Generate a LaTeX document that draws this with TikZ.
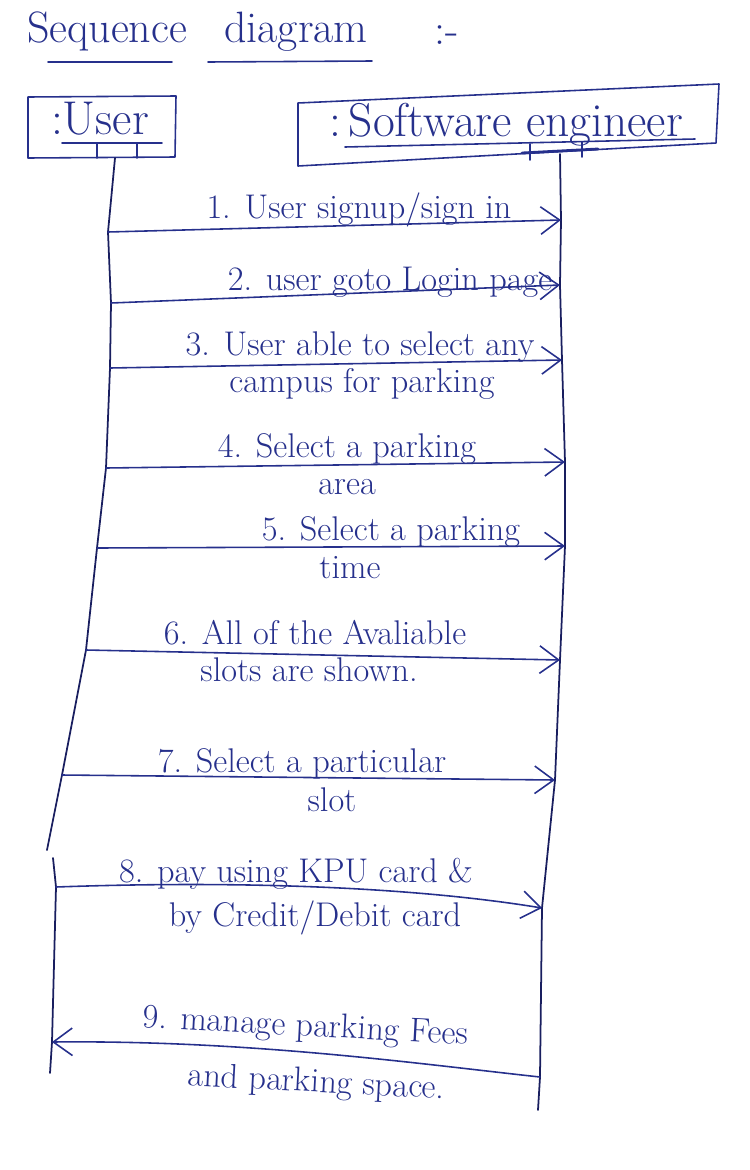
\documentclass[tikz,border=0pt]{standalone}
\usepackage{tikz}
\usetikzlibrary{positioning,arrows.meta}
\definecolor{ink}{RGB}{38,48,140}
\definecolor{darkink}{RGB}{25,30,95}

\begin{document}
\begin{tikzpicture}[x=0.02cm,y=-0.02cm]
            \tikzset{
                pen/.style={draw=ink,line width=0.9pt,line cap=round,line join=round},
                msg/.style={pen,-{Straight Barb[length=3.8mm,width=5.5mm,line width=0.9pt]}},
                life/.style={draw=darkink,line width=1pt,line cap=round,line join=round},
                lbl/.style={text=ink,font=\fontsize{19.5}{22}\selectfont,inner sep=0pt,anchor=base},
                big/.style={text=ink,font=\fontsize{25}{28}\selectfont,inner sep=1pt,anchor=base},
                actorname/.style={text=ink,font=\fontsize{27}{30}\selectfont,inner sep=1pt,anchor=base},}
            \useasboundingbox (0,0) rectangle (750,1170);
            % title
            \node[big] (seqword) at (107,42) {Sequence};
            \node[big] (diagword) at (296,42) {diagram};
            \node[big] (dash) at (447,44) {:-};
            \draw[pen] (48,62) -- (172,62);
            \draw[pen] (208,62) -- (372,61);
            % actors
            \draw[pen] (28,97) -- (176,96) -- (175,157) -- (28,158) -- cycle;
            \node[actorname] (user) at (100,134) {:User};
            \draw[pen] (62,143) -- (162,143) (97,143) -- (97,158) (137,143) -- (137,158);
            \draw[pen] (298,103) -- (719,84) -- (716,143) -- (298,166) -- cycle;
            \node[actorname] (eng) at (506,136) {:\,Software engineer};
            \draw[pen] (345,147) -- (695,139);
            \draw[pen,line width=1.6pt] (522,153) -- (598,149);
            \draw[pen] (530,144) -- (530,160) (582,142) -- (582,157);
            % lifelines
            \coordinate (utop) at (115,158);
            \coordinate (u1) at (108,232);
            \coordinate (u2) at (111,303);
            \coordinate (u3) at (110,368);
            \coordinate (u4) at (106,468);
            \coordinate (u5) at (97,548);
            \coordinate (u6) at (86,650);
            \coordinate (u7) at (62,775);
            \coordinate (u8) at (56,887);
            \coordinate (u9) at (52,1042);
            \coordinate (etop) at (560,154);
            \coordinate (e1) at (561,220);
            \coordinate (e2) at (560,285);
            \coordinate (e3) at (562,360);
            \coordinate (e4) at (565,462);
            \coordinate (e5) at (565,546);
            \coordinate (e6) at (560,660);
            \coordinate (e7) at (555,780);
            \coordinate (e8) at (542,908);
            \coordinate (e9) at (540,1077);
            \draw[life] (utop) -- (u1) -- (u2) -- (u3) -- (u4) -- (u5) -- (u6) -- (u7) -- (47,850);
            \draw[life] (53,858) -- (u8) -- (u9) -- (50,1073);
            \draw[life] (etop) -- (e1) -- (e2) -- (e3) -- (e4) -- (e5) -- (e6) -- (e7) -- (e8) -- (e9) -- (538,1110);
            % messages
            \draw[msg] (u1) -- (e1);
            \draw[msg] (u2) -- (e2);
            \draw[msg] (u3) -- (e3);
            \draw[msg] (u4) -- (e4);
            \draw[msg] (u5) -- (e5);
            \draw[msg] (u6) -- (e6);
            \draw[msg] (u7) -- (e7);
            \draw[msg] (u8) .. controls (250,880) and (420,888) .. (e8);
            \draw[msg] (e9) .. controls (420,1064) and (250,1040) .. (u9);
            % labels
            \node[lbl] (m1) at (359,218) {1. User signup/sign in};
            \node[lbl] (m2) at (390,290) {2. user goto Login page};
            \node[lbl] (m3) at (360,355) {3. User able to select any};
            \node[lbl] (m3b) at (362,392) {campus for parking};
            \node[lbl] (m4) at (347,457) {4. Select a parking};
            \node[lbl] (m4b) at (347,494) {area};
            \node[lbl] (m5) at (391,540) {5. Select a parking};
            \node[lbl] (m5b) at (350,578) {time};
            \node[lbl] (m6) at (315,644) {6. All of the Avaliable};
            \node[lbl] (m6b) at (309,681) {slots are shown.};
            \node[lbl] (m7) at (302,772) {7. Select a particular};
            \node[lbl] (m7b) at (332,811) {slot};
            \node[lbl] (m8) at (296,882) {8. pay using KPU card \&};
            \node[lbl] (m8b) at (315,926) {by Credit/Debit card};
            \node[lbl,rotate=-3] (m9) at (305,1036) {9. manage parking Fees};
            \node[lbl,rotate=-3] (m9b) at (316,1092) {and parking space.};
\end{tikzpicture}
\end{document}
